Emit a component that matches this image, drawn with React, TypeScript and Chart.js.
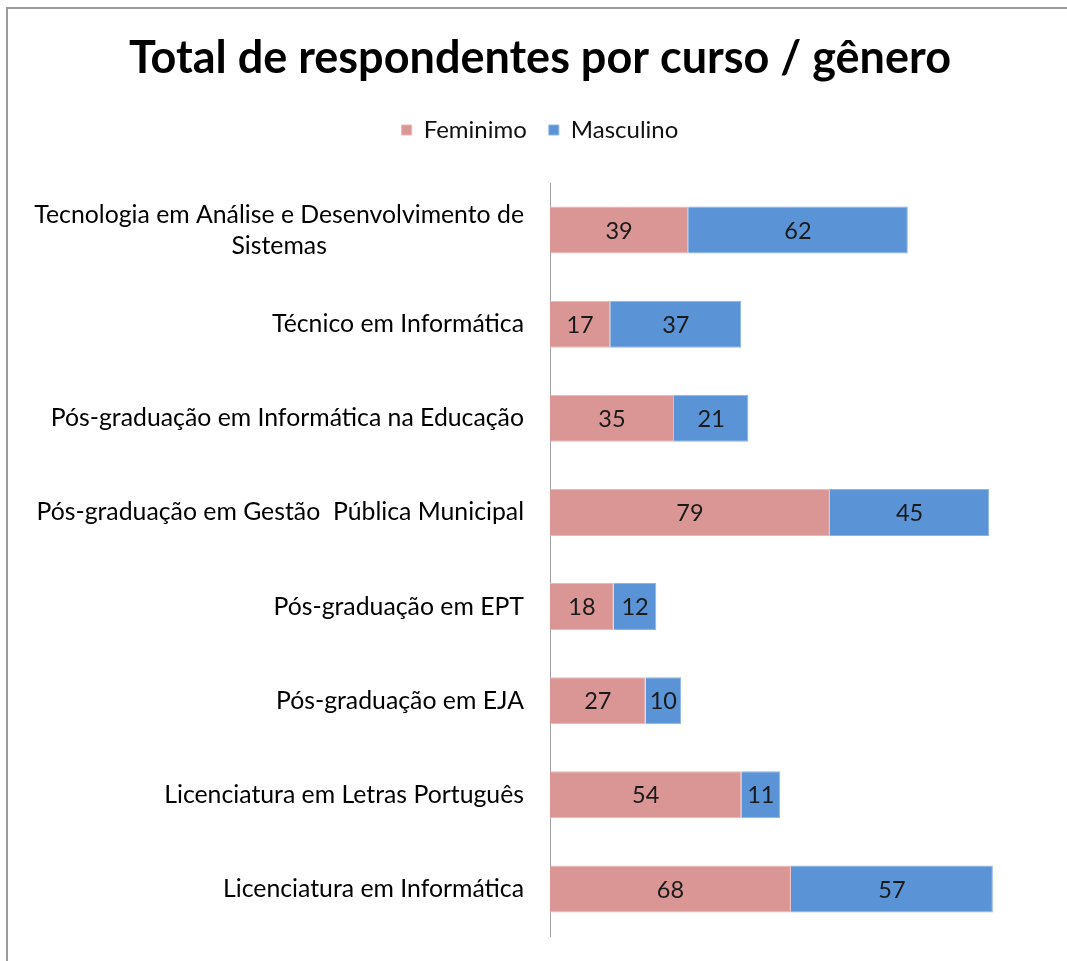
import React, { useEffect, useRef } from "react";
import { Chart, registerables } from "chart.js";

Chart.register(...registerables);

const TITLE = "Total de respondentes por curso / gênero";
const categories: (string | string[])[] = [
  ["Tecnologia em Análise e Desenvolvimento de", "Sistemas"],
  "Técnico em Informática",
  "Pós-graduação em Informática na Educação",
  "Pós-graduação em Gestão  Pública Municipal",
  "Pós-graduação em EPT",
  "Pós-graduação em EJA",
  "Licenciatura em Letras Português",
  "Licenciatura em Informática",
];
const feminimo = [39, 17, 35, 79, 18, 27, 54, 68];
const masculino = [62, 37, 21, 45, 12, 10, 11, 57];
const seriesNames = ["Feminimo", "Masculino"];
const xMax = 140;

const FONT = "Lato, 'Open Sans', sans-serif";
const PAD_LEFT = 34;

const categoryLabelPlugin = {
  id: "categoryLabels",
  afterDraw(chart: any) {
    const ctx = chart.ctx;
    const yScale = chart.scales.y;
    const rightX = chart.chartArea.left - 26;
    const lh = 31;
    ctx.save();
    ctx.font = `24.8px ${FONT}`;
    ctx.fillStyle = "#000";
    ctx.textBaseline = "middle";
    ctx.textAlign = "center";
    categories.forEach((lab, i) => {
      const lines = Array.isArray(lab) ? lab : [lab];
      const maxW = Math.max(...lines.map((l) => ctx.measureText(l).width));
      const yc = yScale.getPixelForTick(i);
      lines.forEach((l, j) => {
        ctx.fillText(l, rightX - maxW / 2, yc + (j - (lines.length - 1) / 2) * lh);
      });
    });
    ctx.restore();
  },
};

const valueLabelPlugin = {
  id: "valueLabels",
  afterDatasetsDraw(chart: any) {
    const ctx = chart.ctx;
    ctx.save();
    ctx.font = `23.5px ${FONT}`;
    ctx.fillStyle = "#1a1a1a";
    ctx.textBaseline = "middle";
    ctx.textAlign = "center";
    chart.data.datasets.forEach((ds: any, di: number) => {
      const meta = chart.getDatasetMeta(di);
      meta.data.forEach((el: any, i: number) => {
        const p = el.getProps(["x", "y", "base"], true);
        ctx.fillText(String(ds.data[i]), (p.x + p.base) / 2, p.y + 1);
      });
    });
    ctx.restore();
  },
};

export default function App() {
  const ref = useRef<HTMLCanvasElement | null>(null);

  useEffect(() => {
    if (!ref.current) return;
    const chart = new Chart(ref.current, {
      type: "bar",
      data: {
        labels: categories as any,
        datasets: [
          {
            label: seriesNames[0],
            data: feminimo,
            backgroundColor: "#DA9694",
            borderColor: "#E8B7B6",
            borderWidth: 1,
            categoryPercentage: 1,
            barPercentage: 0.5,
          },
          {
            label: seriesNames[1],
            data: masculino,
            backgroundColor: "#5A93D6",
            borderColor: "#8DB4E2",
            borderWidth: 1,
            categoryPercentage: 1,
            barPercentage: 0.5,
          },
        ],
      },
      options: {
        indexAxis: "y",
        responsive: false,
        animation: false,
        layout: { padding: { left: PAD_LEFT, right: 21, top: 0, bottom: 25 } },
        scales: {
          x: {
            stacked: true,
            min: 0,
            max: xMax,
            position: "top",
            ticks: { display: false },
            grid: { display: false },
            border: { display: false },
            afterFit: (s: any) => {
              const c = s.chart;
              const used = (c.titleBlock?.height || 0) + (c.legend?.height || 0);
              s.height = Math.max(0, 183 - used);
            },
          },
          y: {
            stacked: true,
            ticks: { display: false },
            grid: { display: false },
            border: { display: true, color: "#a0a0a0", width: 1 },
            afterFit: (s: any) => {
              s.width = 550 - PAD_LEFT;
            },
          },
        },
        plugins: {
          title: {
            display: true,
            text: TITLE,
            color: "#000",
            font: { family: FONT, size: 45, weight: "bold" },
            padding: { top: 31, bottom: 11 },
          },
          legend: {
            display: true,
            labels: {
              color: "#111",
              font: { family: FONT, size: 24 },
              boxWidth: 10,
              boxHeight: 10,
              padding: 22,
            },
          },
          tooltip: { enabled: false },
        },
      },
      plugins: [categoryLabelPlugin, valueLabelPlugin],
    });
    return () => chart.destroy();
  }, []);

  return (
    <div
      style={{
        position: "absolute",
        left: 0,
        top: 0,
        width: 1067,
        height: 961,
        overflow: "hidden",
        background: "#fff",
      }}
    >
      <div
        style={{
          position: "absolute",
          left: 6,
          top: 7,
          width: 1200,
          height: 1100,
          borderTop: "2px solid #9a9a9a",
          borderLeft: "2px solid #9a9a9a",
        }}
      />
      <canvas
        ref={ref}
        width={1067}
        height={961}
        style={{ position: "absolute", left: 0, top: 0, display: "block" }}
      />
    </div>
  );
}
